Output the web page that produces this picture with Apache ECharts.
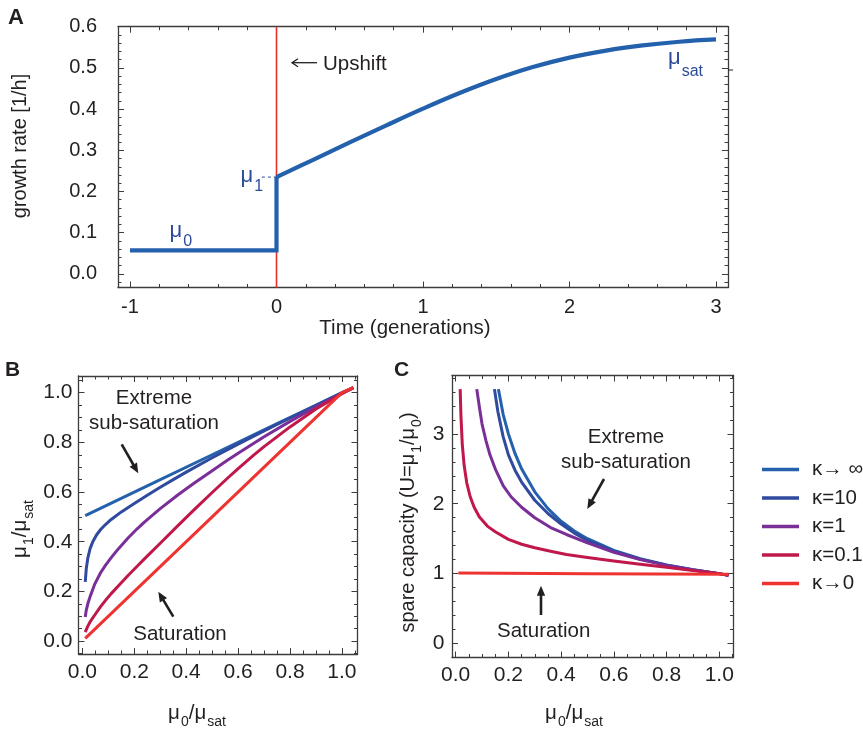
<!DOCTYPE html>
<html>
<head>
<meta charset="utf-8">
<script src="https://cdn.jsdelivr.net/npm/echarts@6.0.0/dist/echarts.min.js"></script>
<style>
html,body{margin:0;padding:0;background:#ffffff;}
#chart{width:863px;height:732px;}
</style>
</head>
<body>
<div id="chart"></div>
<script>
// ---------------- data ----------------
// Panel A: growth rate vs time (generations)
const timeStepA   = [-1, 0, 0];
const growthStepA = [0.057, 0.057, 0.235];
const timeRiseA   = [0, 0.25, 0.5, 0.75, 1, 1.25, 1.5, 1.75, 2, 2.25, 2.5, 2.75, 3];
const growthRiseA = [0.235, 0.277, 0.319, 0.3605, 0.401, 0.439, 0.473, 0.502, 0.525, 0.542, 0.5545, 0.5635, 0.569];
const upshiftTime = 0;
const mu1Value = 0.235;
const mu1GuideStart = -0.1;

// axis extents
const xExtentA = [-1.082, 3.082];
const yExtentA = [-0.033, 0.6];
const xExtentB = [-0.015, 1.06];
const yExtentB = [-0.052, 1.067];
const xExtentC = [-0.014, 1.054];
const yExtentC = [-0.2, 3.835];

// tick labels
const tickValsAx = [-1, 0, 1, 2, 3];
const tickTextAx = ['-1', '0', '1', '2', '3'];
const tickValsAy = [0, 0.1, 0.2, 0.3, 0.4, 0.5, 0.6];
const tickTextAy = ['0.0', '0.1', '0.2', '0.3', '0.4', '0.5', '0.6'];
const tickValsUnit = [0, 0.2, 0.4, 0.6, 0.8, 1.0];
const tickTextUnit = ['0.0', '0.2', '0.4', '0.6', '0.8', '1.0'];
const tickValsCy = [0, 1, 2, 3];
const tickTextCy = ['0', '1', '2', '3'];

// legend names
const kappaNames = ['κ→ ∞', 'κ=10', 'κ=1', 'κ=0.1', 'κ→0'];

// Panel B: mu1/musat vs mu0/musat  [x, y]
const bInf = [[0.011,0.505],[0.25,0.625],[0.5,0.75],[0.75,0.875],[1.044,1.02]];
const b10  = [[0.011,0.238],[0.015,0.292],[0.021,0.335],[0.03,0.373],[0.04,0.4],[0.055,0.428],[0.072,0.451],[0.09,0.47],[0.111,0.4895],[0.15,0.52],[0.2,0.554],[0.25,0.587],[0.3,0.619],[0.35,0.65],[0.4,0.68],[0.5,0.738],[0.6,0.793],[0.7,0.846],[0.8,0.898],[0.9,0.949],[1.0,1.0],[1.044,1.02]];
const b1   = [[0.011,0.097],[0.015,0.125],[0.021,0.151],[0.03,0.18],[0.047,0.228],[0.07,0.275],[0.09,0.307],[0.111,0.336],[0.14,0.373],[0.175,0.414],[0.21,0.451],[0.24,0.48],[0.3,0.533],[0.37,0.59],[0.43,0.635],[0.5,0.686],[0.56,0.729],[0.6,0.7565],[0.7,0.8225],[0.8,0.8845],[0.9,0.9425],[1.0,0.9965],[1.044,1.019]];
const b01  = [[0.011,0.036],[0.02,0.058],[0.03,0.078],[0.047,0.104],[0.07,0.1385],[0.09,0.165],[0.111,0.191],[0.14,0.224],[0.175,0.263],[0.21,0.3],[0.24,0.332],[0.3,0.394],[0.37,0.4665],[0.43,0.528],[0.5,0.598],[0.56,0.6565],[0.6,0.6945],[0.66,0.7485],[0.7,0.7825],[0.8,0.862],[0.9,0.934],[1.0,0.996],[1.044,1.02]];
const b0   = [[0.011,0.011],[0.5,0.5],[1.0,1.0],[1.044,1.02]];

// Panel C: spare capacity U vs mu0/musat  [x, U]
const cInf = [[0.162,3.64],[0.18,3.28],[0.2,3.0],[0.225,2.72],[0.25,2.5],[0.3,2.17],[0.35,1.93],[0.4,1.75],[0.45,1.61],[0.5,1.5],[0.6,1.333],[0.7,1.214],[0.8,1.125],[0.9,1.056],[1.0,1.0],[1.035,0.975]];
const c10  = [[0.147,3.64],[0.16,3.32],[0.18,2.96],[0.2,2.7],[0.225,2.48],[0.25,2.31],[0.3,2.05],[0.35,1.86],[0.4,1.71],[0.45,1.58],[0.5,1.475],[0.6,1.32],[0.7,1.208],[0.8,1.122],[0.9,1.055],[1.0,1.0],[1.035,0.975]];
const c1   = [[0.08,3.64],[0.09,3.38],[0.1,3.14],[0.115,2.9],[0.13,2.7],[0.15,2.5],[0.18,2.26],[0.21,2.1],[0.25,1.95],[0.3,1.8],[0.36,1.66],[0.42,1.56],[0.5,1.44],[0.6,1.305],[0.7,1.2],[0.8,1.118],[0.9,1.053],[1.0,1.0],[1.035,0.975]];
const c01  = [[0.017,3.64],[0.02,3.25],[0.025,2.85],[0.032,2.55],[0.042,2.3],[0.055,2.1],[0.07,1.95],[0.09,1.81],[0.12,1.68],[0.15,1.6],[0.2,1.49],[0.25,1.42],[0.3,1.37],[0.36,1.32],[0.42,1.275],[0.5,1.23],[0.6,1.18],[0.7,1.135],[0.8,1.09],[0.9,1.045],[1.0,1.0],[1.035,0.975]];
const c0   = [[0.01,1.01],[0.5,1.0],[1.035,0.99]];

// ---------------- styling ----------------
const FONT = '"Liberation Sans", Arial, Helvetica, sans-serif';
const INK = '#231f20';
const FRAME = '#3c3c3c';
const kappaColors = ['#2461ad', '#2f4a9e', '#7a2e98', '#c0184a', '#ee3330'];
const MU_BLUE = '#2c4a9a';
const A_BLUE = '#2461ad';

function fmtFrom(vals, texts) {
  return function (v) {
    for (let i = 0; i < vals.length; i++) {
      if (Math.abs(vals[i] - v) < 1e-6) return texts[i];
    }
    return '';
  };
}

function axes(dim, grid, ext, splitNumber, minorSplit, vals, texts, fs, margin) {
  const base = {
    type: 'value', gridIndex: grid, min: ext[0], max: ext[1], splitNumber: splitNumber,
    axisLine: {show: true, onZero: false, lineStyle: {color: FRAME, width: 1.3}},
    axisTick: {show: true, inside: true, length: 6, lineStyle: {color: FRAME, width: 1}},
    minorTick: {show: true, splitNumber: minorSplit, length: 3.5, lineStyle: {color: FRAME, width: 1}},
    splitLine: {show: false}, minorSplitLine: {show: false}, silent: true
  };
  return [
    Object.assign({}, base, {
      position: dim === 'x' ? 'bottom' : 'left',
      axisLabel: {show: true, formatter: fmtFrom(vals, texts), fontSize: fs, color: INK,
        fontFamily: FONT, margin: margin, showMinLabel: true, showMaxLabel: true, hideOverlap: false}
    }),
    Object.assign({}, base, {position: dim === 'x' ? 'top' : 'right', axisLabel: {show: false}})
  ];
}

const xAxis = [].concat(
  axes('x', 0, xExtentA, 4, 5, tickValsAx, tickTextAx, 20, 10),
  axes('x', 1, xExtentB, 5, 4, tickValsUnit, tickTextUnit, 21, 7.5),
  axes('x', 2, xExtentC, 5, 4, tickValsUnit, tickTextUnit, 21, 7.5)
);
const yAxis = [].concat(
  axes('y', 0, yExtentA, 6, 5, tickValsAy, tickTextAy, 20, 21),
  axes('y', 1, yExtentB, 5, 4, tickValsUnit, tickTextUnit, 21, 6),
  axes('y', 2, yExtentC, 4, 5, tickValsCy, tickTextCy, 21, 7.5)
);

const series = [];
// Panel A
series.push({
  type: 'line', xAxisIndex: 0, yAxisIndex: 0, z: 1, symbol: 'none', silent: true,
  data: [[upshiftTime, yExtentA[0]], [upshiftTime, yExtentA[1]]],
  lineStyle: {color: '#e8302a', width: 1.6}
});
series.push({
  type: 'line', xAxisIndex: 0, yAxisIndex: 0, z: 2, symbol: 'none', silent: true,
  data: [[mu1GuideStart, mu1Value], [upshiftTime, mu1Value]],
  lineStyle: {color: MU_BLUE, width: 1, type: [3, 3]}
});
series.push({
  type: 'line', xAxisIndex: 0, yAxisIndex: 0, z: 3, symbol: 'none', silent: true,
  data: timeStepA.map((t, i) => [t, growthStepA[i]]),
  lineStyle: {color: A_BLUE, width: 4.2, join: 'miter', cap: 'butt'}
});
series.push({
  type: 'line', xAxisIndex: 0, yAxisIndex: 0, z: 3, symbol: 'none', silent: true, smooth: 0.4,
  data: timeRiseA.map((t, i) => [t, growthRiseA[i]]),
  lineStyle: {color: A_BLUE, width: 4.2, cap: 'butt'}
});
// Panels B & C
const bSets = [bInf, b10, b1, b01, b0];
const cSets = [cInf, c10, c1, c01, c0];
for (let i = 0; i < 5; i++) {
  series.push({
    type: 'line', name: kappaNames[i], xAxisIndex: 2, yAxisIndex: 2, symbol: 'none', silent: true,
    smooth: false, data: bSets[i], color: kappaColors[i],
    lineStyle: {color: kappaColors[i], width: 3, join: 'round'}
  });
  series.push({
    type: 'line', name: kappaNames[i], xAxisIndex: 4, yAxisIndex: 4, symbol: 'none', silent: true,
    smooth: false, data: cSets[i], color: kappaColors[i],
    lineStyle: {color: kappaColors[i], width: 3, join: 'round'}
  });
}

// ---------------- annotations ----------------
function txt(x, y, s, fs, o) {
  o = o || {};
  return {
    type: 'text', x: x, y: y, rotation: o.rot || 0, silent: true, z: 10,
    style: Object.assign({
      text: s, fontSize: fs, fontFamily: FONT, fill: o.fill || INK,
      align: o.align || 'center', verticalAlign: o.va || 'middle',
      fontWeight: o.fw || 'normal', lineHeight: o.lh
    }, o.style || {})
  };
}
function richTokens(mainSize, subSize, pad, color) {
  return {
    m: {fontSize: mainSize, fontFamily: FONT, fill: color, verticalAlign: 'top'},
    s: {fontSize: subSize, fontFamily: FONT, fill: color, verticalAlign: 'top', padding: [pad, 0, 0, 1]}
  };
}
function arrow(x1, y1, x2, y2, w, head, hw) {
  const dx = x2 - x1, dy = y2 - y1, L = Math.hypot(dx, dy), ux = dx / L, uy = dy / L;
  const bx = x2 - ux * head, by = y2 - uy * head;
  return [
    {type: 'line', silent: true, z: 10, shape: {x1: x1, y1: y1, x2: bx + ux, y2: by + uy}, style: {stroke: INK, lineWidth: w}},
    {type: 'polygon', silent: true, z: 10, shape: {points: [[x2, y2], [bx - uy * hw, by + ux * hw], [bx + uy * hw, by - ux * hw]]}, style: {fill: INK}}
  ];
}

const graphic = [];
// panel letters
graphic.push(txt(8, 18, 'A', 22, {align: 'left', fw: 'bold'}));
graphic.push(txt(5, 370.5, 'B', 21, {align: 'left', fw: 'bold'}));
graphic.push(txt(394, 370.5, 'C', 21, {align: 'left', fw: 'bold'}));
// panel A texts
graphic.push(txt(20.5, 146, 'growth rate [1/h]', 20, {rot: Math.PI / 2}));
graphic.push(txt(405, 328.5, 'Time (generations)', 20.5));
graphic.push(txt(323, 64.5, 'Upshift', 20.5, {align: 'left'}));
graphic.push({type: 'line', silent: true, z: 10, shape: {x1: 317, y1: 62.7, x2: 292, y2: 62.7}, style: {stroke: INK, lineWidth: 1.3}});
graphic.push({type: 'polyline', silent: true, z: 10, shape: {points: [[298, 58.7], [292, 62.7], [298, 66.7]]}, style: {stroke: INK, lineWidth: 1.3, fill: null}});
graphic.push({type: 'text', x: 169.5, y: 220, silent: true, z: 10,
  style: {text: '{m|μ}{s|0}', rich: richTokens(22, 16, 14, MU_BLUE), align: 'left', verticalAlign: 'top'}});
graphic.push({type: 'text', x: 240.5, y: 165, silent: true, z: 10,
  style: {text: '{m|μ}{s|1}', rich: richTokens(22, 16, 14, MU_BLUE), align: 'left', verticalAlign: 'top'}});
graphic.push({type: 'text', x: 668, y: 46.5, silent: true, z: 10,
  style: {text: '{m|μ}{s|sat}', rich: richTokens(22, 16, 17, MU_BLUE), align: 'left', verticalAlign: 'top'}});
graphic.push({type: 'line', silent: true, z: 10, shape: {x1: 728, y1: 70, x2: 733, y2: 70}, style: {stroke: INK, lineWidth: 1}});
// panel B texts
graphic.push(txt(154, 410.5, 'Extreme\nsub-saturation', 20.5, {lh: 25}));
graphic.push(txt(180, 634.5, 'Saturation', 20.5));
graphic.push.apply(graphic, arrow(121.7, 444.3, 138.3, 473.3, 2.6, 10, 4.2));
graphic.push.apply(graphic, arrow(173.3, 616.7, 158.3, 591.7, 2.6, 10, 4.2));
graphic.push({type: 'text', x: 23, y: 529, rotation: Math.PI / 2, silent: true, z: 10,
  style: {text: '{m|μ}{s|1}{m|/μ}{s|sat}', rich: richTokens(20.5, 14, 12, INK), align: 'center', verticalAlign: 'middle'}});
graphic.push({type: 'text', x: 197, y: 716, silent: true, z: 10,
  style: {text: '{m|μ}{s|0}{m|/μ}{s|sat}', rich: richTokens(20.5, 14, 12, INK), align: 'center', verticalAlign: 'middle'}});
// panel C texts
graphic.push(txt(626, 450, 'Extreme\nsub-saturation', 20.5, {lh: 25.5}));
graphic.push(txt(543.7, 631.3, 'Saturation', 20.5));
graphic.push.apply(graphic, arrow(604, 479, 587.3, 509, 2.6, 10, 4.2));
graphic.push.apply(graphic, arrow(541, 615, 541, 585.7, 2.6, 10, 4.2));
graphic.push({type: 'text', x: 411, y: 522.5, rotation: Math.PI / 2, silent: true, z: 10,
  style: {text: '{m|spare capacity (U=μ}{s|1}{m|/μ}{s|0}{m|)}', rich: richTokens(20, 14, 12, INK), align: 'center', verticalAlign: 'middle'}});
graphic.push({type: 'text', x: 574, y: 716, silent: true, z: 10,
  style: {text: '{m|μ}{s|0}{m|/μ}{s|sat}', rich: richTokens(20.5, 14, 12, INK), align: 'center', verticalAlign: 'middle'}});

const chart = echarts.init(document.getElementById('chart'), null, {renderer: 'canvas', width: 863, height: 732});
chart.setOption({
  animation: false,
  backgroundColor: '#ffffff',
  textStyle: {fontFamily: FONT},
  grid: [
    {left: 118, top: 26.7, width: 610, height: 260.8},
    {left: 78.5, top: 376, width: 279, height: 278},
    {left: 452, top: 375.5, width: 281.5, height: 282}
  ],
  xAxis: xAxis,
  yAxis: yAxis,
  legend: {
    data: kappaNames.map(n => ({name: n, icon: 'rect'})),
    orient: 'vertical', left: 757, top: 454, itemWidth: 37, itemHeight: 3.5, itemGap: 7.5,
    selectedMode: false,
    textStyle: {fontSize: 20.5, color: INK, fontFamily: FONT, padding: [0, 0, 0, 8]}
  },
  series: series,
  graphic: graphic
});
</script>
</body>
</html>
